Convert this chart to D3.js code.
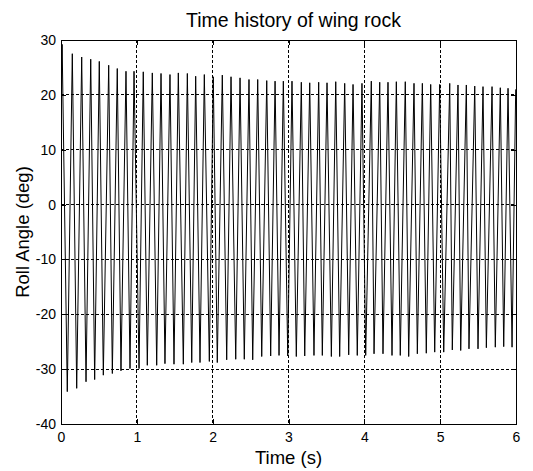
<!DOCTYPE html>
<html><head><meta charset="utf-8">
<script src="https://cdn.jsdelivr.net/npm/d3@7"></script>
<style>
body{margin:0;background:#fff}
text{font-family:"Liberation Sans",Arial,Helvetica,sans-serif;fill:#000}
</style>
</head><body>
<svg id="chart" width="533" height="471"></svg>
<script>
// ---- data ----
const titleText = "Time history of wing rock";
const xLabelText = "Time (s)";
const yLabelText = "Roll Angle (deg)";
const xTicks = [0, 1, 2, 3, 4, 5, 6];
const yTicks = [-40, -30, -20, -10, 0, 10, 20, 30];
const xDomain = [0, 6];
const yDomain = [-40, 30];

const startT = [0];
const startV = [20];

const peakT = [0.015, 0.149, 0.273, 0.392, 0.505, 0.629, 0.742, 0.857, 0.963, 1.085,
  1.204, 1.319, 1.437, 1.547, 1.666, 1.776, 1.890, 2.008, 2.127, 2.242,
  2.361, 2.479, 2.594, 2.713, 2.823, 2.932, 3.046, 3.169, 3.280, 3.398,
  3.508, 3.623, 3.741, 3.851, 3.969, 4.092, 4.203, 4.312, 4.422, 4.540,
  4.655, 4.765, 4.875, 4.994, 5.126, 5.235, 5.345, 5.456, 5.565, 5.684,
  5.793, 5.895, 5.996];
const peakV = [29.2, 27.5, 26.9, 26.5, 26.1, 25.4, 24.8, 24.3, 24.3, 24.2,
  24.0, 23.9, 23.7, 24.0, 23.9, 23.4, 23.7, 23.3, 23.6, 23.3,
  23.1, 22.8, 22.8, 22.6, 22.5, 22.5, 22.5, 22.3, 22.2, 22.3,
  22.2, 22.4, 22.1, 21.9, 22.1, 22.5, 22.3, 22.3, 22.4, 22.4,
  22.1, 22.1, 21.9, 21.9, 22.1, 21.8, 21.8, 21.6, 21.5, 21.5,
  21.3, 21.2, 21.0];

const troughT = [0.083, 0.207, 0.330, 0.444, 0.558, 0.677, 0.791, 0.910, 1.029, 1.138,
  1.262, 1.371, 1.490, 1.613, 1.724, 1.833, 1.956, 2.061, 2.185, 2.304,
  2.417, 2.528, 2.647, 2.765, 2.875, 2.990, 3.103, 3.214, 3.336, 3.446,
  3.565, 3.675, 3.794, 3.907, 4.018, 4.128, 4.246, 4.365, 4.474, 4.585,
  4.699, 4.817, 4.928, 5.047, 5.160, 5.271, 5.380, 5.499, 5.609, 5.727,
  5.838, 5.948];
const troughV = [-34.1, -33.5, -32.3, -31.9, -31.1, -30.8, -30.3, -29.9, -29.9, -29.3,
  -29.3, -29.0, -29.1, -29.1, -28.8, -28.8, -28.6, -28.8, -28.3, -28.2,
  -28.2, -28.3, -27.7, -27.6, -27.5, -27.6, -27.7, -27.6, -27.5, -27.5,
  -27.7, -27.7, -27.4, -27.5, -27.5, -27.2, -27.2, -27.5, -27.5, -27.7,
  -27.2, -27.1, -26.9, -26.9, -26.5, -26.6, -26.3, -26.3, -26.1, -26.0,
  -25.9, -26.0];

// ---- build series ----
const pts = [];
startT.forEach((t, i) => pts.push({t, v: startV[i]}));
peakT.forEach((t, i) => pts.push({t, v: peakV[i]}));
troughT.forEach((t, i) => pts.push({t, v: troughV[i]}));
pts.sort((a, b) => a.t - b.t);

// ---- layout ----
const L = 61, R = 516, T = 40, B = 424;
const svg = d3.select("#chart");
const x = d3.scaleLinear().domain(xDomain).range([L, R]);
const y = d3.scaleLinear().domain(yDomain).range([B, T]);

svg.append("rect").attr("width", 533).attr("height", 471).attr("fill", "#fff");

// grid
const g = svg.append("g");
g.selectAll("line.gx").data(xTicks.filter(d => d > xDomain[0] && d < xDomain[1]))
  .join("line").attr("x1", d => x(d)).attr("x2", d => x(d))
  .attr("y1", T).attr("y2", B)
  .attr("stroke", "#000").attr("stroke-width", 1).attr("stroke-dasharray", "3,2")
  .attr("shape-rendering", "crispEdges");
g.selectAll("line.gy").data(yTicks.filter(d => d > yDomain[0] && d < yDomain[1]))
  .join("line").attr("y1", d => y(d)).attr("y2", d => y(d))
  .attr("x1", L).attr("x2", R)
  .attr("stroke", "#000").attr("stroke-width", 1).attr("stroke-dasharray", "3,2")
  .attr("shape-rendering", "crispEdges");

// signal
svg.append("clipPath").attr("id", "clip").append("rect")
  .attr("x", L).attr("y", T).attr("width", R - L).attr("height", B - T);
const line = d3.line().x(d => x(d.t)).y(d => y(d.v));
svg.append("path").datum(pts).attr("clip-path", "url(#clip)")
  .attr("d", line).attr("fill", "none").attr("stroke", "#000").attr("stroke-width", 1);

// axes
const fs = "14px";
const ax = svg.append("g").attr("transform", `translate(0,${B})`)
  .call(d3.axisBottom(x).tickValues(xTicks).tickSizeInner(-5).tickSizeOuter(0).tickPadding(8).tickFormat(d3.format("d")));
const ay = svg.append("g").attr("transform", `translate(${L},0)`)
  .call(d3.axisLeft(y).tickValues(yTicks).tickSizeInner(-5).tickSizeOuter(0).tickPadding(5).tickFormat(d => String(d)));
const at = svg.append("g").attr("transform", `translate(0,${T})`)
  .call(d3.axisTop(x).tickValues(xTicks).tickSizeInner(-5).tickSizeOuter(0).tickFormat(""));
const ar = svg.append("g").attr("transform", `translate(${R},0)`)
  .call(d3.axisRight(y).tickValues(yTicks).tickSizeInner(-5).tickSizeOuter(0).tickFormat(""));
[ax, ay, at, ar].forEach(a => {
  a.select(".domain").remove();
  a.selectAll("line").attr("stroke", "#000").attr("shape-rendering", "crispEdges");
  a.selectAll("text").attr("font-size", fs).attr("font-family", "'Liberation Sans',Arial,sans-serif").attr("fill", "#000");
});

// frame
svg.append("rect").attr("x", L).attr("y", T).attr("width", R - L).attr("height", B - T)
  .attr("fill", "none").attr("stroke", "#000").attr("stroke-width", 1).attr("shape-rendering", "crispEdges");

// titles
svg.append("text").attr("x", (L + R) / 2 + 5).attr("y", 27).attr("text-anchor", "middle")
  .attr("font-size", "19.5px").text(titleText);
svg.append("text").attr("x", (L + R) / 2).attr("y", 464).attr("text-anchor", "middle")
  .attr("font-size", "18.5px").text(xLabelText);
svg.append("text").attr("transform", `translate(29,${(T + B) / 2}) rotate(-90)`)
  .attr("text-anchor", "middle").attr("font-size", "18.5px").text(yLabelText);
</script>
</body></html>
